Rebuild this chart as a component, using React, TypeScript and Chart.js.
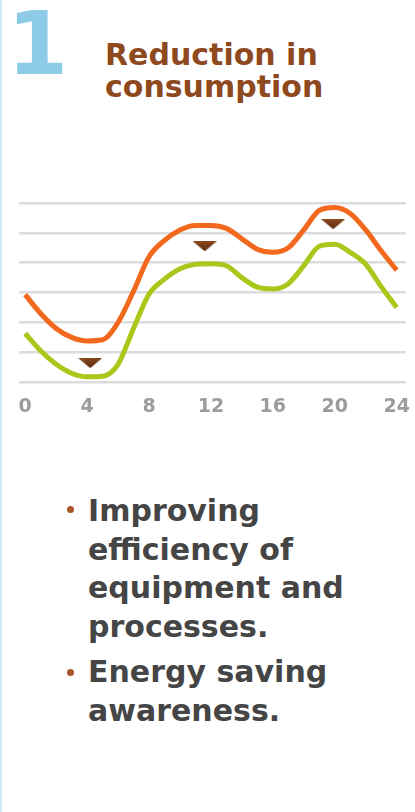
import React, { useEffect, useRef } from "react";
import { Chart, registerables } from "chart.js";

Chart.register(...registerables);

const hours = [0, 1, 2, 3, 4, 5, 6, 7, 8, 9, 10, 11, 12, 13, 14, 15, 16, 17, 18, 19, 20, 21, 22, 23, 24];
const beforeValues = [2.93, 2.3, 1.8, 1.5, 1.38, 1.42, 2.0, 3.05, 4.2, 4.75, 5.1, 5.25, 5.25, 5.15, 4.8, 4.45, 4.35, 4.5, 5.1, 5.75, 5.85, 5.65, 5.1, 4.4, 3.75];
const afterValues = [1.63, 1.05, 0.6, 0.3, 0.18, 0.2, 0.6, 1.8, 2.95, 3.45, 3.8, 3.95, 3.97, 3.9, 3.5, 3.18, 3.12, 3.3, 3.9, 4.55, 4.62, 4.35, 3.95, 3.2, 2.5];
const markerHours = [4.2, 11.6, 19.9];
const markerValues = [0.64, 4.55, 5.29];
const tickHours = [0, 4, 8, 12, 16, 20, 24];

function makeTriangle(): HTMLCanvasElement {
  const c = document.createElement("canvas");
  c.width = 24;
  c.height = 10;
  const ctx = c.getContext("2d")!;
  const g = ctx.createLinearGradient(0, 0, 0, 10);
  g.addColorStop(0, "#8a4a1c");
  g.addColorStop(1, "#5a2a0c");
  ctx.fillStyle = g;
  ctx.beginPath();
  ctx.moveTo(0, 0);
  ctx.lineTo(24, 0);
  ctx.lineTo(12, 10);
  ctx.closePath();
  ctx.fill();
  return c;
}

function LoadChart() {
  const ref = useRef<HTMLCanvasElement | null>(null);
  useEffect(() => {
    if (!ref.current) return;
    const tri = makeTriangle();
    const chart = new Chart(ref.current, {
      type: "line",
      data: {
        datasets: [
          {
            label: "before",
            data: hours.map((h, i) => ({ x: h, y: beforeValues[i] })),
            borderColor: "#f2681c",
            borderWidth: 5,
            pointRadius: 0,
            tension: 0.4,
            cubicInterpolationMode: "monotone",
            fill: false,
          },
          {
            label: "after",
            data: hours.map((h, i) => ({ x: h, y: afterValues[i] })),
            borderColor: "#a9c81c",
            borderWidth: 5,
            pointRadius: 0,
            tension: 0.4,
            cubicInterpolationMode: "monotone",
            fill: false,
          },
          {
            label: "markers",
            data: markerHours.map((h, i) => ({ x: h, y: markerValues[i] })),
            showLine: false,
            pointStyle: tri as any,
            pointRadius: 6,
            borderWidth: 0,
          },
        ],
      },
      options: {
        animation: false,
        responsive: false,
        maintainAspectRatio: false,
        layout: { padding: { left: 19, right: 3, top: 13, bottom: 4 } },
        plugins: { legend: { display: false }, tooltip: { enabled: false } },
        scales: {
          x: {
            type: "linear",
            min: -0.4,
            max: 24.6,
            afterBuildTicks: (axis: any) => {
              axis.ticks = tickHours.map((v) => ({ value: v }));
            },
            grid: { display: false },
            border: { display: false },
            ticks: {
              color: "#9c9c9c",
              padding: 5,
              font: { family: "DejaVu Sans", weight: "bold", size: 19 },
              maxRotation: 0,
            },
          },
          y: {
            min: 0,
            max: 6,
            ticks: { display: false, stepSize: 1 },
            grid: { color: "#dcdcdc", lineWidth: 2.5, drawTicks: false },
            border: { display: false },
          },
        },
      },
    });
    return () => chart.destroy();
  }, []);
  return (
    <canvas
      ref={ref}
      width={415}
      height={237}
      style={{ position: "absolute", left: 0, top: 190, width: 415, height: 237 }}
    />
  );
}

export default function App() {
  const bulletText: React.CSSProperties = {
    position: "absolute",
    left: 88,
    fontFamily: "DejaVu Sans",
    fontWeight: "bold",
    fontSize: 30,
    lineHeight: "38.5px",
    color: "#454545",
    whiteSpace: "nowrap",
  };
  const dot: React.CSSProperties = {
    position: "absolute",
    left: 67,
    width: 7,
    height: 7,
    borderRadius: "50%",
    background: "#a9542a",
  };
  return (
    <div
      style={{
        position: "absolute",
        left: 0,
        top: 0,
        width: 415,
        height: 812,
        background: "#ffffff",
        overflow: "hidden",
      }}
    >
      <div style={{ position: "absolute", left: 0, top: 0, width: 2, height: 812, background: "#cfe9f6" }} />
      <div
        style={{
          position: "absolute",
          left: 7,
          top: 0,
          fontFamily: "DejaVu Sans",
          fontWeight: "bold",
          fontSize: 88,
          lineHeight: "88px",
          color: "#8ecbe6",
        }}
      >
        1
      </div>
      <div
        style={{
          position: "absolute",
          left: 105,
          top: 39,
          fontFamily: "DejaVu Sans",
          fontWeight: "bold",
          fontSize: 30,
          lineHeight: "32px",
          color: "#8e4a1e",
          whiteSpace: "nowrap",
        }}
      >
        Reduction in
        <br />
        consumption
      </div>
      <LoadChart />
      <div style={{ ...dot, top: 506 }} />
      <div style={{ ...bulletText, top: 492 }}>
        Improving
        <br />
        efficiency of
        <br />
        equipment and
        <br />
        processes.
      </div>
      <div style={{ ...dot, top: 669 }} />
      <div style={{ ...bulletText, top: 653 }}>
        Energy saving
        <br />
        awareness.
      </div>
    </div>
  );
}
